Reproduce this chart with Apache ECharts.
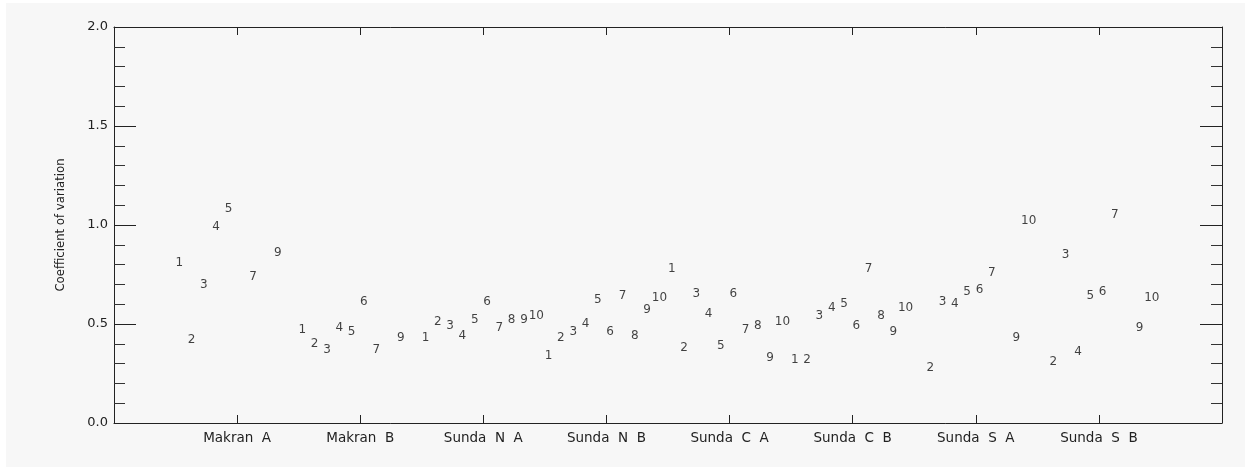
<!DOCTYPE html>
<html>
<head>
<meta charset="utf-8">
<script src="https://cdn.jsdelivr.net/npm/echarts@6/dist/echarts.min.js"></script>
<style>
html,body{margin:0;padding:0;background:#ffffff;}
#chart{width:1251px;height:469px;}
</style>
</head>
<body>
<div id="chart"></div>
<script>
// Category names (x axis)
const categories = ['Makran  A', 'Makran  B', 'Sunda  N  A', 'Sunda  N  B', 'Sunda  C  A', 'Sunda  C  B', 'Sunda  S  A', 'Sunda  S  B'];
// Point labels 1..10 within each category
const pointLabels = ['1', '2', '3', '4', '5', '6', '7', '8', '9', '10'];
// Coefficient of variation for points 1..10 (null = not plotted)
const makranA = [0.81, 0.42, 0.70, 0.99, 1.08, null, 0.74, null, 0.86, null];
const makranB = [0.47, 0.40, 0.37, 0.48, 0.46, 0.61, 0.37, null, 0.43, null];
const sundaNA = [0.43, 0.51, 0.49, 0.44, 0.52, 0.61, 0.48, 0.52, 0.52, 0.54];
const sundaNB = [0.34, 0.43, 0.46, 0.50, 0.62, 0.46, 0.64, 0.44, 0.57, 0.63];
const sundaCA = [0.78, 0.38, 0.65, 0.55, 0.39, 0.65, 0.47, 0.49, 0.33, 0.51];
const sundaCB = [0.32, 0.32, 0.54, 0.58, 0.60, 0.49, 0.78, 0.54, 0.46, 0.58];
const sundaSA = [null, 0.28, 0.61, 0.60, 0.66, 0.67, 0.76, null, 0.43, 1.02];
const sundaSB = [null, 0.31, 0.85, 0.36, 0.64, 0.66, 1.05, null, 0.48, 0.63];
// Y tick values
const yTicks = [0.0, 0.5, 1.0, 1.5, 2.0];

const groups = [makranA, makranB, sundaNA, sundaNB, sundaCA, sundaCB, sundaSA, sundaSB];

const series = groups.map((vals, k) => ({
  type: 'scatter',
  symbolSize: 1,
  itemStyle: { color: 'rgba(0,0,0,0)' },
  label: {
    show: true,
    position: 'inside',
    align: 'center',
    verticalAlign: 'middle',
    color: '#111',
    fontFamily: 'DejaVu Sans',
    fontSize: 12,
    formatter: p => p.data[2]
  },
  emphasis: { disabled: true },
  data: vals.map((v, i) => v == null ? null : [k + 1 - 0.47 + 0.1 * i, v, pointLabels[i]]).filter(d => d)
}));
// empty series so the top and right frame axes are bound to data
series.push({ type: 'scatter', xAxisIndex: 1, yAxisIndex: 1, data: [], silent: true });

const axisLineStyle = { color: '#222', width: 1 };

const chart = echarts.init(document.getElementById('chart'), null, { renderer: 'canvas' });
chart.setOption({
  backgroundColor: '#ffffff',
  animation: false,
  graphic: [{
    type: 'rect', z: -10, silent: true,
    shape: { x: 6, y: 3, width: 1239, height: 464 },
    style: { fill: '#f7f7f7' }
  }],
  grid: { left: 114, right: 29, top: 27, bottom: 46 },
  xAxis: [{
    type: 'value', min: 0, max: 9, interval: 1, position: 'bottom',
    axisLine: { show: true, onZero: false, lineStyle: axisLineStyle },
    axisTick: { show: true, inside: true, length: 8, lineStyle: axisLineStyle },
    splitLine: { show: false },
    axisLabel: {
      margin: 8, color: '#222', fontFamily: 'DejaVu Sans', fontSize: 13.5,
      formatter: v => categories[v - 1] || ''
    }
  }, {
    type: 'value', min: 0, max: 9, interval: 1, position: 'top',
    axisLine: { show: true, onZero: false, lineStyle: axisLineStyle },
    axisTick: { show: true, inside: true, length: 8, lineStyle: axisLineStyle },
    splitLine: { show: false },
    axisLabel: { show: false }
  }],
  yAxis: [{
    type: 'value', min: 0, max: 2, interval: 0.5, position: 'left',
    name: 'Coefficient of variation', nameLocation: 'middle', nameGap: 47, nameRotate: 90,
    nameTextStyle: { color: '#222', fontFamily: 'Liberation Sans Narrow, DejaVu Sans Condensed, sans-serif', fontSize: 13 },
    axisLine: { show: true, onZero: false, lineStyle: axisLineStyle },
    axisTick: { show: true, inside: true, length: 22, lineStyle: axisLineStyle },
    minorTick: { show: true, splitNumber: 5, length: 11, lineStyle: { color: '#333', width: 1 } },
    splitLine: { show: false },
    axisLabel: {
      margin: 6, color: '#222', fontFamily: 'DejaVu Sans', fontSize: 13,
      formatter: v => yTicks.includes(v) ? v.toFixed(1) : ''
    }
  }, {
    type: 'value', min: 0, max: 2, interval: 0.5, position: 'right',
    axisLine: { show: true, onZero: false, lineStyle: axisLineStyle },
    axisTick: { show: true, inside: true, length: 22, lineStyle: axisLineStyle },
    minorTick: { show: true, splitNumber: 5, length: 11, lineStyle: { color: '#333', width: 1 } },
    splitLine: { show: false },
    axisLabel: { show: false }
  }],
  series: series
});
</script>
</body>
</html>
